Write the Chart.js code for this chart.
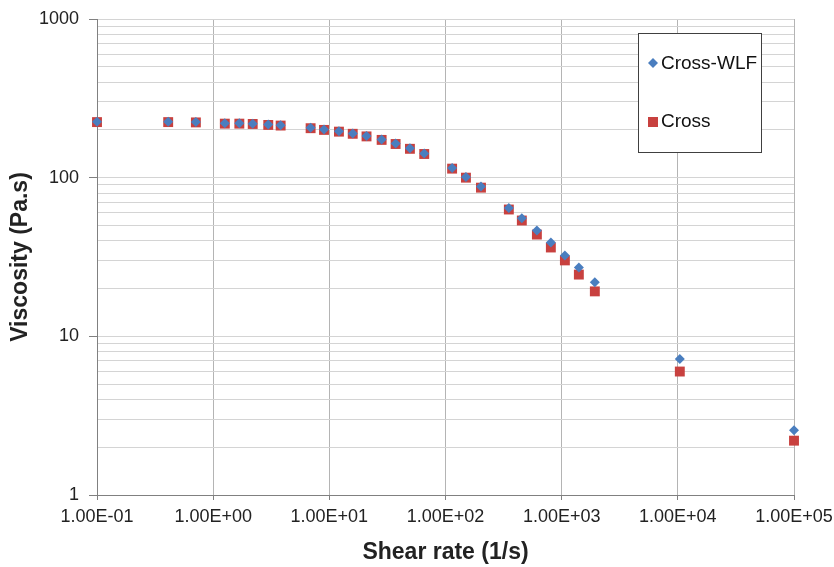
<!DOCTYPE html>
<html>
<head>
<meta charset="utf-8">
<script src="https://cdn.jsdelivr.net/npm/chart.js@4.4.1/dist/chart.umd.min.js"></script>
<style>
  body { margin: 0; background: #fff; }
  #chart { display: block; }
</style>
</head>
<body>
<canvas id="chart" width="834" height="567"></canvas>
<script>
// values
const shearRate = [0.1, 0.41, 0.71, 1.26, 1.68, 2.19, 2.98, 3.81, 6.9, 9.0, 12.1, 15.9, 20.9, 28.2, 37.2, 49.4, 65.6, 114, 150, 202, 351, 454, 612, 807, 1066, 1406, 1930, 10400, 100000];
const crossWlf = [225, 225, 224, 220, 220, 219, 216, 214, 206, 201, 196, 190, 183, 174, 164, 153, 142, 115, 101, 88, 64.5, 55.5, 46.4, 39, 32.3, 27.2, 21.9, 7.2, 2.56];
const cross = [224, 224, 223, 219, 219, 218, 215, 213, 205, 200, 195, 189, 182, 173, 163, 152, 141, 114, 100, 86.5, 63, 53.7, 43.8, 36.3, 30.1, 24.5, 19.2, 6.0, 2.2];

const xTicks = [0.1, 1, 10, 100, 1000, 10000, 100000];
const xTickLabels = ["1.00E-01", "1.00E+00", "1.00E+01", "1.00E+02", "1.00E+03", "1.00E+04", "1.00E+05"];
const yTicks = [1, 10, 100, 1000];
const yTickLabels = ["1", "10", "100", "1000"];

const toPoints = (xs, ys) => xs.map((x, i) => ({ x: x, y: ys[i] }));

const isMajorY = (v) => yTicks.some((t) => Math.abs(t - v) < 1e-9);

// legend box drawn inside the plot, like the original
const boxLegend = {
  id: "boxLegend",
  afterDatasetsDraw(chart) {
    const ctx = chart.ctx;
    const ds = chart.data.datasets;
    ctx.save();
    ctx.fillStyle = "#fff";
    ctx.fillRect(638, 33, 123, 119);
    ctx.strokeStyle = "#404040";
    ctx.lineWidth = 1;
    ctx.strokeRect(638.5, 33.5, 123, 119);

    ctx.font = "19px 'Liberation Sans', Arial, sans-serif";
    ctx.textBaseline = "middle";
    ctx.textAlign = "left";

    // diamond
    ctx.fillStyle = ds[0].backgroundColor;
    ctx.beginPath();
    ctx.moveTo(653, 58);
    ctx.lineTo(658, 63);
    ctx.lineTo(653, 68);
    ctx.lineTo(648, 63);
    ctx.closePath();
    ctx.fill();
    ctx.fillStyle = "#111";
    ctx.fillText(ds[0].label, 661, 64);

    // square
    ctx.fillStyle = ds[1].backgroundColor;
    ctx.fillRect(648, 117, 10, 10);
    ctx.fillStyle = "#111";
    ctx.fillText(ds[1].label, 661, 122);
    ctx.restore();
  }
};

const ctx = document.getElementById("chart");
new Chart(ctx, {
  type: "scatter",
  data: {
    datasets: [
      {
        label: "Cross-WLF",
        data: toPoints(shearRate, crossWlf),
        pointStyle: "rectRot",
        pointRadius: 5,
        backgroundColor: "#4a7ebf",
        borderColor: "#4a7ebf",
        borderWidth: 0,
        clip: false
      },
      {
        label: "Cross",
        data: toPoints(shearRate, cross),
        pointStyle: "rect",
        pointRadius: 7,
        backgroundColor: "#c8413f",
        borderColor: "#c8413f",
        borderWidth: 0,
        clip: false
      }
    ]
  },
  options: {
    responsive: false,
    animation: false,
    layout: { padding: { left: 0, right: 40, top: 19, bottom: 0 } },
    plugins: {
      legend: { display: false },
      tooltip: { enabled: false }
    },
    scales: {
      x: {
        type: "logarithmic",
        min: 0.1,
        max: 100000,
        afterBuildTicks: (scale) => {
          scale.ticks = xTicks.map((v) => ({ value: v }));
        },
        afterFit: (scale) => {
          scale.height = 72;
          scale.paddingLeft = 0;
          scale.paddingRight = 0;
        },
        ticks: {
          autoSkip: false,
          maxRotation: 0,
          color: "#222",
          padding: 6,
          font: { family: "'Liberation Sans', Arial, sans-serif", size: 18 },
          callback: (v) => xTickLabels[xTicks.indexOf(v)] || ""
        },
        grid: {
          color: "#b4b4b4",
          tickColor: "#808080",
          tickLength: 5
        },
        border: { color: "#808080", width: 1 },
        title: {
          display: true,
          text: "Shear rate (1/s)",
          color: "#222",
          font: { family: "'Liberation Sans', Arial, sans-serif", size: 23, weight: "bold" },
          padding: { top: 0, bottom: 1 }
        }
      },
      y: {
        type: "logarithmic",
        min: 1,
        max: 1000,
        afterBuildTicks: (scale) => {
          const t = [];
          yTicks.forEach((d) => {
            for (let m = 1; m <= 9; m++) {
              if (d * m <= 1000) t.push({ value: d * m });
            }
          });
          scale.ticks = t;
        },
        afterFit: (scale) => {
          scale.width = 97;
          scale.paddingTop = 0;
          scale.paddingBottom = 0;
        },
        ticks: {
          autoSkip: false,
          color: "#222",
          padding: 10,
          font: { family: "'Liberation Sans', Arial, sans-serif", size: 18 },
          callback: (v) => {
            const i = yTicks.findIndex((t) => Math.abs(t - v) < 1e-9);
            return i >= 0 ? yTickLabels[i] : "";
          }
        },
        grid: {
          color: "#d4d4d4",
          tickColor: (c) => (c.tick && isMajorY(c.tick.value) ? "#808080" : "rgba(0,0,0,0)"),
          tickLength: 8
        },
        border: { color: "#808080", width: 1 },
        title: {
          display: true,
          text: "Viscosity (Pa.s)",
          color: "#222",
          font: { family: "'Liberation Sans', Arial, sans-serif", size: 23, weight: "bold" },
          padding: { top: 7, bottom: 0 }
        }
      }
    }
  },
  plugins: [boxLegend]
});
</script>
</body>
</html>
